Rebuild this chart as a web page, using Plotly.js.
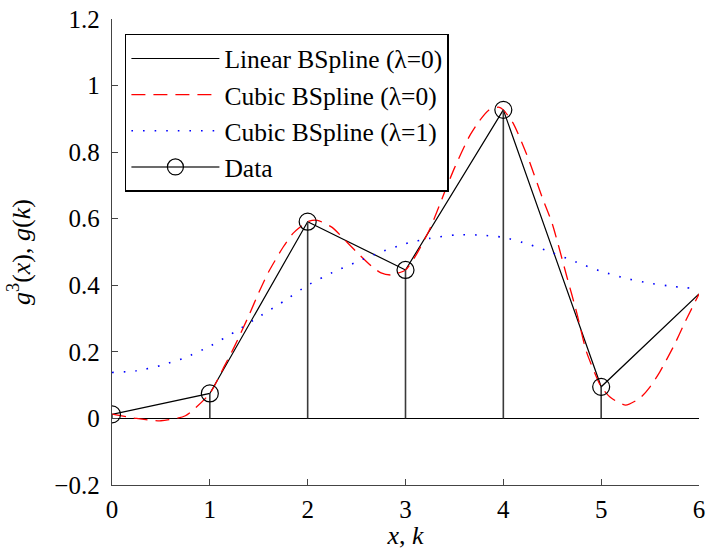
<!DOCTYPE html>
<html>
<head>
<meta charset="utf-8">
<script src="https://cdn.plot.ly/plotly-3.0.1.min.js"></script>
<style>html,body{margin:0;padding:0;background:#fff;}#chart{width:707px;height:550px;}</style>
</head>
<body>
<div id="chart"></div>
<script>
// ---- data ----
const k = [0, 1, 2, 3, 4, 5];
const gk = [0.012, 0.075, 0.591, 0.446, 0.927, 0.095];

const linX = [0, 1, 2, 3, 4, 5, 6];
const linY = [0.012, 0.075, 0.591, 0.446, 0.927, 0.095, 0.374];

const cub0X = [0, 0.25, 0.5, 0.75, 1.0, 1.15, 1.25, 1.4, 1.5, 1.6, 1.75, 1.85, 2.0, 2.1, 2.25, 2.4, 2.5, 2.65, 2.75, 2.85, 3.0, 3.1, 3.25, 3.4, 3.5, 3.65, 3.75, 3.85, 3.95, 4.0, 4.1, 4.25, 4.4, 4.5, 4.65, 4.75, 4.85, 5.0, 5.1, 5.25, 5.4, 5.5, 5.6, 5.75, 5.85, 6.0];
const cub0Y = [0.013, 0.000, -0.007, 0.008, 0.075, 0.158, 0.215, 0.310, 0.378, 0.440, 0.515, 0.556, 0.591, 0.595, 0.574, 0.530, 0.500, 0.458, 0.437, 0.431, 0.446, 0.487, 0.570, 0.680, 0.752, 0.846, 0.892, 0.926, 0.935, 0.927, 0.887, 0.785, 0.662, 0.585, 0.425, 0.318, 0.200, 0.095, 0.062, 0.040, 0.062, 0.095, 0.140, 0.222, 0.285, 0.374];

const cub1X = [0, 0.25, 0.5, 0.75, 1.0, 1.25, 1.5, 1.75, 2.0, 2.25, 2.5, 2.75, 3.0, 3.25, 3.5, 3.75, 4.0, 4.25, 4.5, 4.75, 5.0, 5.25, 5.5, 5.75, 6.0];
const cub1Y = [0.138, 0.143, 0.159, 0.183, 0.217, 0.259, 0.305, 0.351, 0.400, 0.438, 0.470, 0.500, 0.525, 0.541, 0.551, 0.551, 0.544, 0.524, 0.498, 0.469, 0.442, 0.421, 0.406, 0.396, 0.389];

const seriesNames = ['Linear BSpline (\u03bb=0)', 'Cubic BSpline (\u03bb=0)', 'Cubic BSpline (\u03bb=1)', 'Data'];
const yTickVals = [-0.2, 0, 0.2, 0.4, 0.6, 0.8, 1.0, 1.2];
const yTickText = ['\u22120.2', '0', '0.2', '0.4', '0.6', '0.8', '1', '1.2'];
const xTickVals = [0, 1, 2, 3, 4, 5, 6];

// stems: each from the data value down to the baseline
const stemX = [], stemY = [], stemC = [];
k.forEach((kv, i) => {
  stemX.push(kv, kv, null);
  stemY.push(gk[i], 0, null);
  stemC.push('#000000', 'rgba(0,0,0,0)', 'rgba(0,0,0,0)');
});

const FONT = '"Liberation Serif", "Times New Roman", Times, serif';

const traces = [
  {x: linX, y: linY, name: seriesNames[0], type: 'scatter', mode: 'lines',
   line: {color: '#000000', width: 1.2}, legendgroup: 'a'},
  {x: cub0X, y: cub0Y, name: seriesNames[1], type: 'scatter', mode: 'lines',
   line: {color: '#ff0000', width: 1.3, dash: '14px,8px', shape: 'spline', smoothing: 0.6}, legendgroup: 'b'},
  {x: cub1X, y: cub1Y, name: seriesNames[2], type: 'scatter', mode: 'lines',
   line: {color: '#0000ff', width: 1.6, dash: '1.6px,10px', shape: 'spline', smoothing: 0.6}, legendgroup: 'c'},
  {x: stemX, y: stemY, name: seriesNames[3], type: 'scatter', mode: 'lines+markers',
   line: {color: '#3a3a3a', width: 1.6},
   marker: {symbol: 'circle-open', size: 17, color: stemC, line: {width: 1.2}},
   legendgroup: 'd'}
];

const layout = {
  width: 707, height: 550,
  margin: {l: 112, r: 8, t: 19, b: 65, pad: 0},
  paper_bgcolor: '#ffffff', plot_bgcolor: '#ffffff',
  font: {family: FONT, size: 25, color: '#000000'},
  showlegend: true,
  legend: {
    x: 0.022, y: 0.968, xanchor: 'left', yanchor: 'top',
    bgcolor: '#ffffff', bordercolor: '#000000', borderwidth: 1.5,
    font: {family: FONT, size: 25.5, color: '#000000'},
    tracegroupgap: 0, itemwidth: 88
  },
  xaxis: {
    range: [0, 6], tickvals: xTickVals, ticktext: xTickVals.map(String),
    ticks: 'inside', ticklen: 6, tickwidth: 1.2, tickcolor: '#444444',
    showline: true, linecolor: '#444444', linewidth: 1.3, mirror: false,
    showgrid: false, zeroline: false, ticklabelstandoff: 2,
    tickfont: {family: FONT, size: 25, color: '#000000'},
    title: {text: '<i>x</i>, <i>k</i>', font: {family: FONT, size: 26}, standoff: 6},
    automargin: false, fixedrange: true
  },
  yaxis: {
    range: [-0.2, 1.2], tickvals: yTickVals, ticktext: yTickText,
    ticks: 'inside', ticklen: 6, tickwidth: 1.2, tickcolor: '#444444',
    showline: true, linecolor: '#444444', linewidth: 1.3, mirror: false,
    showgrid: false, zeroline: true, zerolinecolor: '#000000', zerolinewidth: 1.3,
    ticklabelstandoff: 6,
    tickfont: {family: FONT, size: 25, color: '#000000'},
    title: {text: '<i>g</i><sup>3</sup>(<i>x</i>), <i>g</i>(<i>k</i>)', font: {family: FONT, size: 26}, standoff: 16},
    automargin: false, fixedrange: true
  }
};

Plotly.newPlot('chart', traces, layout, {displayModeBar: false, staticPlot: true});
</script>
</body>
</html>
